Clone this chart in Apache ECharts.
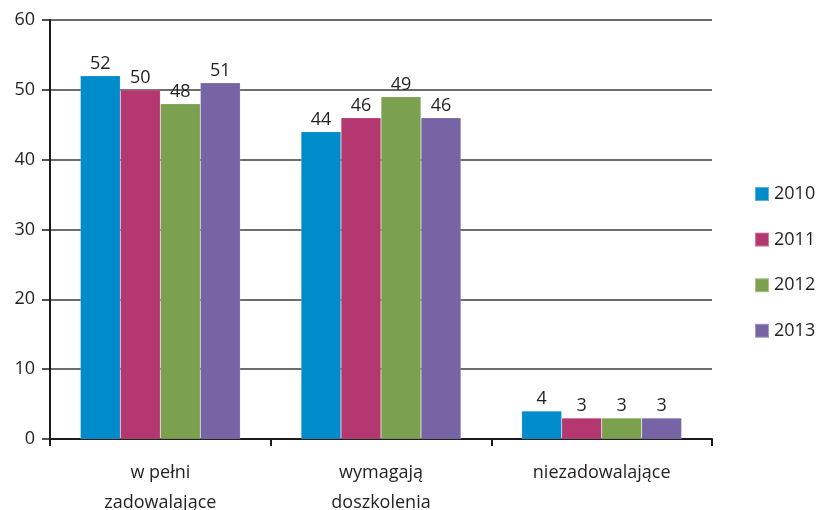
<!DOCTYPE html>
<html>
<head>
<meta charset="utf-8">
<script src="https://cdn.jsdelivr.net/npm/echarts@6/dist/echarts.min.js"></script>
<style>
  html, body { margin: 0; padding: 0; background: #ffffff; }
  #chart { width: 817px; height: 510px; }
</style>
</head>
<body>
<div id="chart"></div>
<script>
// Ocena stanu - udział procentowy w kolejnych latach
const categories = ['w pełni\nzadowalające', 'wymagają\ndoszkolenia', 'niezadowalające'];
const years = ['2010', '2011', '2012', '2013'];
const values2010 = [52, 44, 4];
const values2011 = [50, 46, 3];
const values2012 = [48, 49, 3];
const values2013 = [51, 46, 3];
const yTicks = [0, 10, 20, 30, 40, 50, 60];

const seriesValues = [values2010, values2011, values2012, values2013];
const colors = ['#008bca', '#b5376f', '#7ba14f', '#7764a4'];
const textColor = '#231f20';
const fontFamily = '"Open Sans", "Noto Sans", sans-serif';
const fs = 18;

const chart = echarts.init(document.getElementById('chart'));

chart.setOption({
  animation: false,
  color: colors,
  textStyle: { fontFamily: fontFamily, color: textColor },
  grid: { left: 50, right: 105, top: 20, bottom: 71, containLabel: false, outerBoundsMode: 'none' },
  legend: {
    orient: 'vertical',
    left: 754,
    top: 185,
    padding: 0,
    itemWidth: 14,
    itemHeight: 14,
    itemGap: 27.6,
    icon: 'rect',
    data: years,
    textStyle: { fontSize: fs, color: textColor, fontFamily: fontFamily }
  },
  xAxis: {
    type: 'category',
    data: categories,
    axisLine: { lineStyle: { color: '#1a1a1a', width: 2 } },
    axisTick: { show: true, length: 7, lineStyle: { color: '#1a1a1a', width: 2 } },
    axisLabel: {
      fontSize: fs,
      color: textColor,
      fontFamily: fontFamily,
      lineHeight: 30,
      margin: 19
    }
  },
  yAxis: {
    type: 'value',
    min: yTicks[0],
    max: yTicks[yTicks.length - 1],
    interval: 10,
    axisLine: { show: true, lineStyle: { color: '#1a1a1a', width: 2 } },
    axisTick: { show: true, length: 8, lineStyle: { color: '#1a1a1a', width: 1.5 } },
    axisLabel: { fontSize: fs, color: textColor, fontFamily: fontFamily, margin: 15 },
    splitLine: { show: true, lineStyle: { color: '#3c3c3c', width: 1.5 } }
  },
  series: years.map((y, i) => ({
    name: y,
    type: 'bar',
    data: seriesValues[i],
    barGap: '0%',
    barCategoryGap: '27.5%',
    itemStyle: { color: colors[i], borderColor: 'rgba(255,255,255,0.35)', borderWidth: 0.5 },
    label: {
      show: true,
      position: 'top',
      distance: 3,
      fontSize: fs,
      color: textColor,
      fontFamily: fontFamily
    }
  }))
});
</script>
</body>
</html>
